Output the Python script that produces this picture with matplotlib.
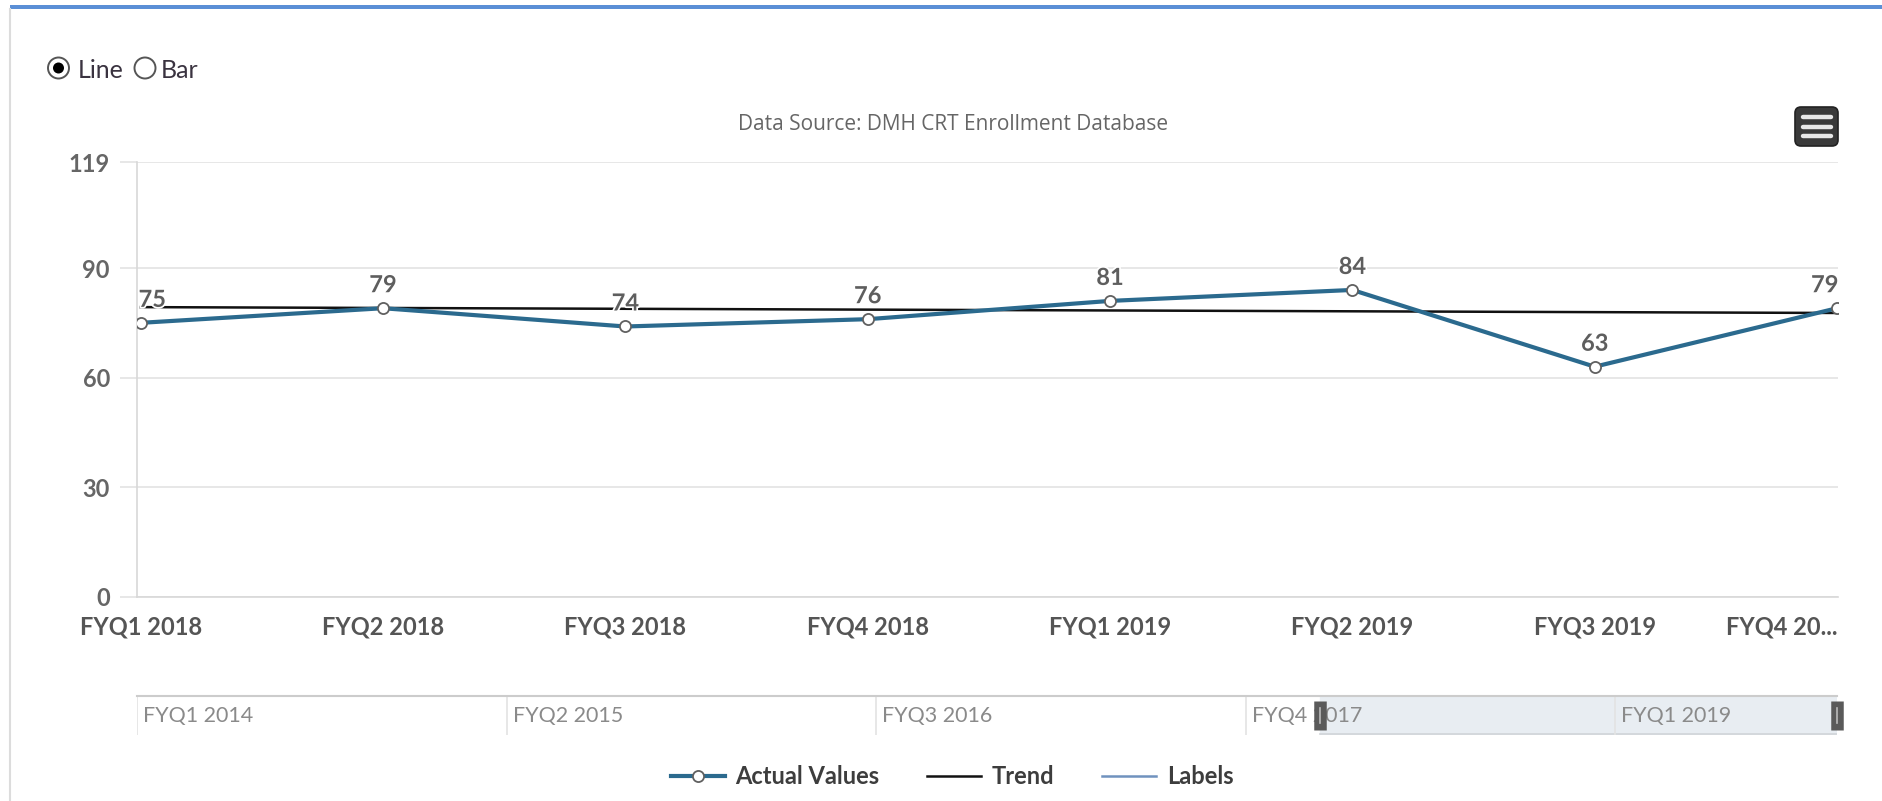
import matplotlib
matplotlib.use("Agg")
import matplotlib.pyplot as plt
import matplotlib.patheffects as pe
import matplotlib.transforms as mtransforms
from matplotlib.lines import Line2D
from matplotlib.patches import Circle, FancyBboxPatch, Rectangle

# ---------------- data ----------------
categories = ["FYQ1 2018", "FYQ2 2018", "FYQ3 2018", "FYQ4 2018",
              "FYQ1 2019", "FYQ2 2019", "FYQ3 2019", "FYQ4 2019"]
tick_labels = ["FYQ1 2018", "FYQ2 2018", "FYQ3 2018", "FYQ4 2018",
               "FYQ1 2019", "FYQ2 2019", "FYQ3 2019", "FYQ4 20..."]
actual_values = [75, 79, 74, 76, 81, 84, 63, 79]
trend_values = [79.3, 77.7]          # trend line at first and last category
y_ticks = [0, 30, 60, 90, 119]

nav_quarters = [f"FYQ{q} {y}" for y in range(2014, 2020) for q in range(1, 5)]
nav_labels = ["FYQ1 2014", "FYQ2 2015", "FYQ3 2016", "FYQ4 2017", "FYQ1 2019"]
selected_from = "FYQ1 2018"

title = "Data Source: DMH CRT Enrollment Database"
legend_labels = ["Actual Values", "Trend", "Labels"]

# ---------------- style ----------------
W, H = 1883, 801
DPI = 100
LINE_C = "#2b6a8e"
FONT = "Lato"
LBL = 17

fig = plt.figure(figsize=(W / DPI, H / DPI), dpi=DPI)
fig.patch.set_facecolor("white")

def fx(px):
    return px / W

def fy(py):
    return 1 - py / H

# ---------------- overlay for page decorations (pixel coords) ----------------
deco = fig.add_axes([0, 0, 1, 1], zorder=-5)
deco.set_xlim(0, W)
deco.set_ylim(H, 0)
deco.axis("off")
deco.add_patch(Rectangle((10, 5), W - 10, 4, color="#5b8fd6", lw=0))
deco.add_line(Line2D([10, 10], [9, H], color="#dcdcdc", lw=1.5))

# radio buttons
deco.add_patch(Circle((58.5, 68), 10.5, facecolor="white", edgecolor="#555555", lw=1.4))
deco.add_patch(Circle((58.5, 68), 5.5, facecolor="black", edgecolor="none"))
deco.add_patch(Circle((145, 68), 10.5, facecolor="white", edgecolor="#555555", lw=1.4))
deco.text(78, 70, "Line", fontsize=18, family=FONT, color="#3a3340", va="center", ha="left")
deco.text(161, 70, "Bar", fontsize=18, family=FONT, color="#3a3340", va="center", ha="left")

# context-menu icon
deco.add_patch(FancyBboxPatch((1795, 107), 43, 39, boxstyle="round,pad=0,rounding_size=6",
                              facecolor="#3a3a3a", edgecolor="#222222", lw=1.2))
for yy in (117, 126.5, 136):
    deco.add_line(Line2D([1803, 1831], [yy, yy], color="#e8e8e8", lw=3.2,
                         solid_capstyle="round"))

# title
fig.text(fx(953), fy(124), title, ha="center", va="center", fontsize=15,
         family="Open Sans", color="#666666")

# ---------------- main chart ----------------
ax = fig.add_axes([fx(137), fy(597), fx(1838) - fx(137), fy(162) - fy(597)])
x = list(range(len(categories)))
ax.set_xlim(-0.015, len(categories) - 1 + 0.004)
ax.set_ylim(0, 119)

ax.set_yticks(y_ticks)
ax.set_yticklabels([str(v) for v in y_ticks])
ax.yaxis.grid(True, color="#e3e3e3", lw=1.2)
ax.set_axisbelow(True)
ax.tick_params(axis="y", length=12.5, width=1.2, color="#e3e3e3", pad=7,
               labelsize=LBL, labelcolor="#666666")
ax.set_xticks(x)
ax.set_xticklabels(tick_labels)
ax.tick_params(axis="x", length=0, pad=13, labelsize=LBL, labelcolor="#555555")
for lab in ax.get_yticklabels() + ax.get_xticklabels():
    lab.set_fontfamily(FONT)
    lab.set_fontweight("bold")
ax.get_xticklabels()[-1].set_ha("right")

for s in ("top", "right"):
    ax.spines[s].set_visible(False)
ax.spines["left"].set_color("#d8d8d8")
ax.spines["left"].set_linewidth(1.2)
ax.spines["bottom"].set_color("#d8d8d8")
ax.spines["bottom"].set_linewidth(1.2)

trend_line, = ax.plot([x[0], x[-1]], trend_values, color="#111111", lw=1.8, zorder=2)
actual_line, = ax.plot(x, actual_values, color=LINE_C, lw=3.0, marker="o",
                       markersize=8, markerfacecolor="white",
                       markeredgecolor="#606060", markeredgewidth=1.3, zorder=3)

for i, (xi, v) in enumerate(zip(x, actual_values)):
    if i == 0:
        ha, dx = "left", -1.5
    elif i == len(x) - 1:
        ha, dx = "right", 1
    else:
        ha, dx = "center", 0
    ax.annotate(str(v), (xi, v), xytext=(dx, 11.5), textcoords="offset points",
                ha=ha, va="baseline", fontsize=LBL, family=FONT,
                fontweight="bold", color="#5e5e5e", zorder=4, annotation_clip=False,
                path_effects=[pe.withStroke(linewidth=2.5, foreground="white")])

# ---------------- navigator ----------------
nav = fig.add_axes([fx(137), fy(735), fx(1837) - fx(137), fy(696) - fy(735)])
nav.set_xlim(0, len(nav_quarters) - 1)
nav.set_ylim(0, 1)
nav.set_xticks([])
nav.set_yticks([])
for s in ("bottom", "left", "right"):
    nav.spines[s].set_visible(False)
nav.spines["top"].set_color("#cccccc")
nav.spines["top"].set_linewidth(1.5)

sel0 = nav_quarters.index(selected_from)
sel1 = len(nav_quarters) - 1
nav.axvspan(sel0, sel1, color="#e8edf2", zorder=0)
nav.plot([sel0, sel1], [0.02, 0.02], color="#d0d4d8", lw=1.2, zorder=1)

off = mtransforms.ScaledTranslation(6 / DPI, 0, fig.dpi_scale_trans)
blend = mtransforms.blended_transform_factory(nav.transData, nav.transAxes)
for lab in nav_labels:
    i = nav_quarters.index(lab)
    nav.axvline(i, color="#e3e3e3", lw=1.2, zorder=1)
    nav.text(i, 0.48, lab, transform=blend + off, ha="left", va="center",
             fontsize=15.5, family=FONT, color="#8a8a8a", zorder=2)

for hx in (sel0, sel1):
    nav.plot([hx, hx], [0.12, 0.88], color="#5a5a5a", lw=9, solid_capstyle="butt",
             zorder=5, clip_on=False)
    nav.plot([hx, hx], [0.3, 0.7], color="#bbbbbb", lw=1.2, zorder=6, clip_on=False)

# ---------------- legend ----------------
labels_handle = Line2D([], [], color="#7092be", lw=1.8)
leg = fig.legend([actual_line, trend_line, labels_handle], legend_labels,
                 loc="center", bbox_to_anchor=(fx(952), fy(777)), ncol=3,
                 frameon=False, handlelength=2.3, handletextpad=0.45,
                 columnspacing=2.0, numpoints=1,
                 prop={"family": FONT, "weight": "bold", "size": LBL})
for t in leg.get_texts():
    t.set_color("#3d3d3d")

fig.savefig("out.png", dpi=DPI, facecolor="white")
